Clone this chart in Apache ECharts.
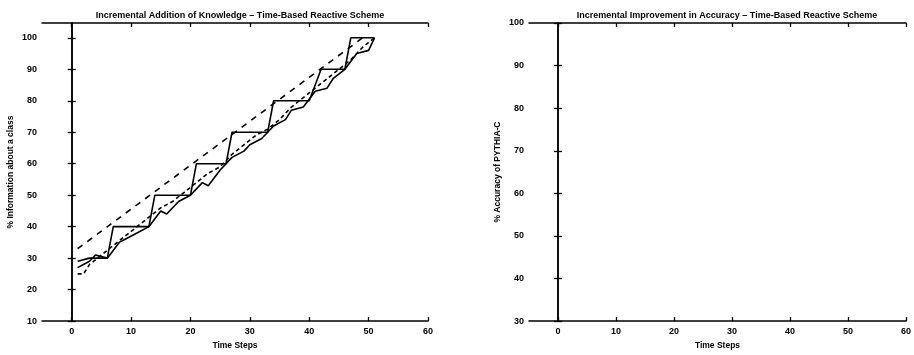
<!DOCTYPE html>
<html>
<head>
<meta charset="utf-8">
<script src="https://cdn.jsdelivr.net/npm/echarts@6/dist/echarts.min.js"></script>
<style>
  html, body { margin: 0; padding: 0; background: #fff; }
  #chart { width: 914px; height: 355px; }
</style>
</head>
<body>
<div id="chart"></div>
<script>
// 坐标刻度
const xTicks = [0, 10, 20, 30, 40, 50, 60];
const yTicksKnow = [10, 20, 30, 40, 50, 60, 70, 80, 90, 100];
const yTicksAcc = [30, 40, 50, 60, 70, 80, 90, 100];

// 阶梯实线
const timeA = [1, 3, 6, 7, 13, 14, 20, 21, 26, 27, 33, 34, 40, 42, 46, 47, 51];
const infoA = [29, 30, 30, 40, 40, 50, 50, 60, 60, 70, 70, 80, 80, 90, 90, 100, 100];

// 第二条实线
const timeB = [1, 3, 4, 6, 8, 9, 11, 13, 15, 16, 18, 20, 22, 23, 25, 27, 29, 30, 32, 34, 36, 37, 39, 41, 43, 44, 46, 48, 50, 51];
const infoB = [27, 29, 31, 30, 35, 36, 38, 40, 45, 44, 48, 50, 54, 53, 58, 62, 64, 66, 68, 72, 74, 77, 78, 83, 84, 87, 90, 95, 96, 100];

// 下方短虚线
const timeC = [1, 2, 3, 5, 7, 9, 11, 13, 15, 17, 19, 21, 23, 25, 27, 29, 31, 33, 35, 37, 39, 41, 43, 45, 47, 49, 51];
const infoC = [25, 25, 28, 31, 34, 37, 40, 43, 46, 48, 51, 54, 57, 59, 63, 66, 69, 71, 74, 78, 81, 84, 87, 90, 93, 97, 100];

// 上方长虚线
const timeD = [1, 49];
const infoD = [33, 100];

const zip = (xs, ys) => xs.map((x, i) => [x, ys[i]]);

const font = "Liberation Sans";
const axisCommon = {
  type: "value",
  axisLine: { show: true, lineStyle: { color: "#000", width: 1.5 } },
  splitLine: { show: false },
};
const labelStyle = { color: "#000", fontFamily: font, fontWeight: "bold", fontSize: 9 };
const nameStyle = { color: "#000", fontFamily: font, fontWeight: "bold", fontSize: 8.5 };

const makeX = (grid, top) => ({
  ...axisCommon,
  gridIndex: grid,
  position: top ? "top" : "bottom",
  min: -5,
  max: 60,
  name: top ? "" : "Time Steps",
  nameLocation: "middle",
  nameGap: 19,
  nameTextStyle: nameStyle,
  axisTick: { show: true, inside: true, length: 4, customValues: xTicks, lineStyle: { color: "#000", width: 1.3 } },
  axisLabel: { show: !top, margin: 6, customValues: xTicks, ...labelStyle },
});

const makeY = (grid, right, min, max, ticks, name) => ({
  ...axisCommon,
  gridIndex: grid,
  position: right ? "right" : "left",
  min: min,
  max: max,
  name: right ? "" : name,
  nameLocation: "middle",
  nameGap: 27,
  nameTextStyle: nameStyle,
  axisTick: { show: true, inside: true, length: 4, customValues: ticks, lineStyle: { color: "#000", width: 1.3 } },
  axisLabel: { show: !right, margin: 5, customValues: ticks, ...labelStyle },
});

const lineSeries = (data, type) => ({
  type: "line",
  xAxisIndex: 0,
  yAxisIndex: 0,
  data: data,
  symbol: "none",
  silent: true,
  lineStyle: { color: "#000", width: 1.6, type: type },
});

const option = {
  animation: false,
  backgroundColor: "#fff",
  title: [
    {
      text: "Incremental Addition of Knowledge – Time-Based Reactive Scheme",
      left: 235, top: 6, textAlign: "center",
      textStyle: { ...nameStyle, fontSize: 9 },
    },
    {
      text: "Incremental Improvement in Accuracy – Time-Based Reactive Scheme",
      left: 722, top: 6, textAlign: "center",
      textStyle: { ...nameStyle, fontSize: 9 },
    },
  ],
  grid: [
    { left: 42, right: 486, top: 23, bottom: 30 },
    { left: 529, right: 1, top: 23, bottom: 29 },
  ],
  xAxis: [makeX(0, false), makeX(0, true), makeX(1, false), makeX(1, true)],
  yAxis: [
    makeY(0, false, 10, 104.7, yTicksKnow, "% Information about a class"),
    makeY(0, true, 10, 104.7, yTicksKnow, ""),
    makeY(1, false, 30, 100, yTicksAcc, "% Accuracy of PYTHIA-C"),
    makeY(1, true, 30, 100, yTicksAcc, ""),
  ],
  series: [
    lineSeries(zip(timeA, infoA), "solid"),
    lineSeries(zip(timeB, infoB), "solid"),
    lineSeries(zip(timeC, infoC), [4, 3]),
    lineSeries(zip(timeD, infoD), [6, 6]),
    { type: "line", xAxisIndex: 2, yAxisIndex: 2, data: [], symbol: "none" },
  ],
};

const myChart = echarts.init(document.getElementById("chart"));
myChart.setOption(option);
</script>
</body>
</html>
